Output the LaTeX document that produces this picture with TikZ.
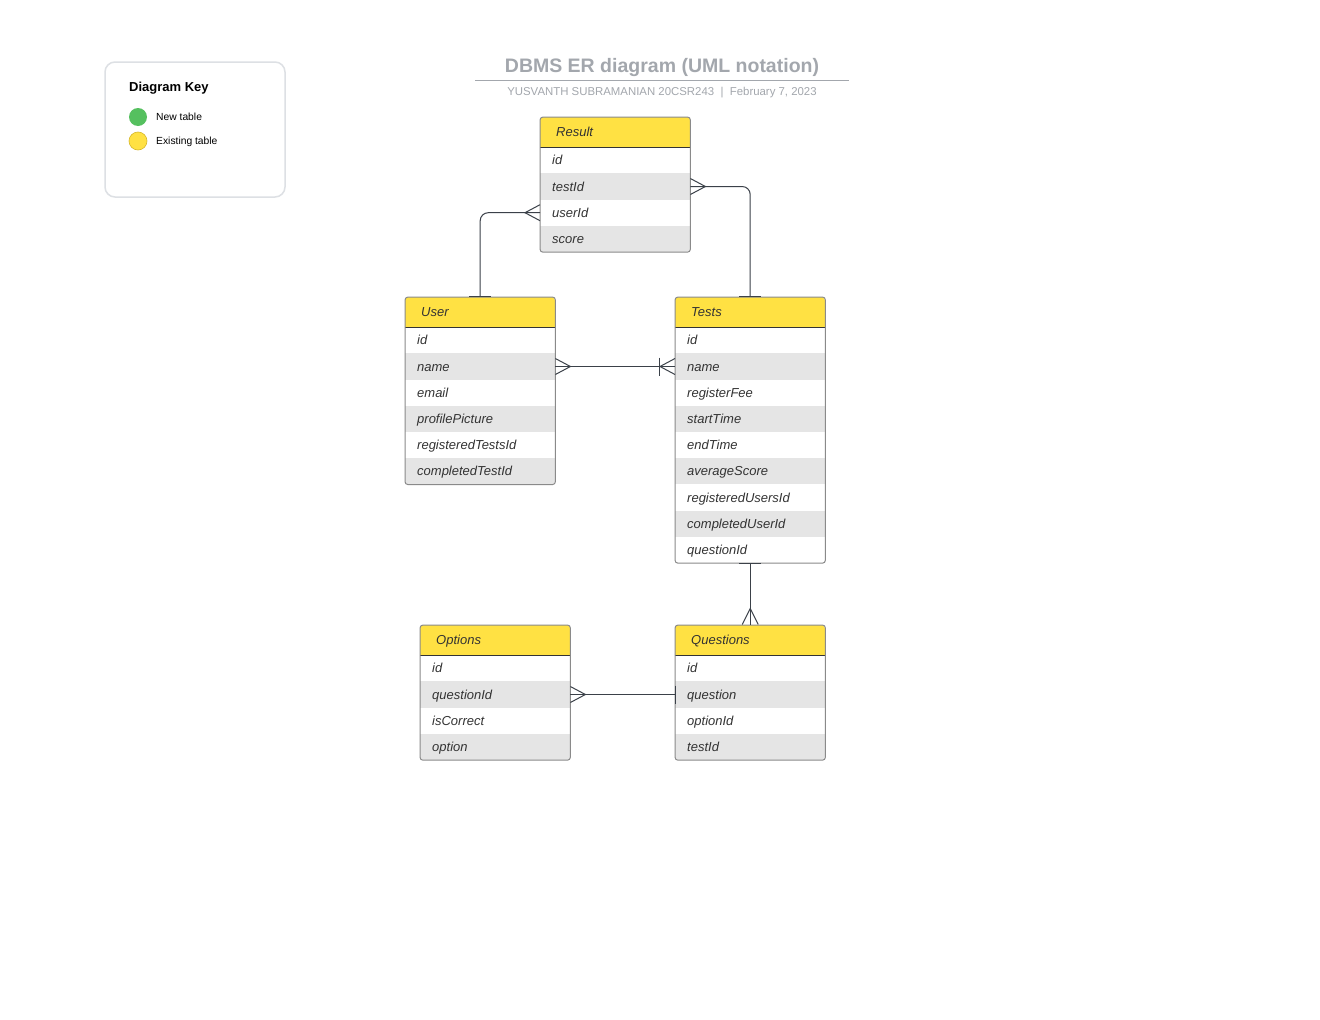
\documentclass[tikz,border=0pt]{standalone}
\usepackage{fontspec}
\setmainfont{Liberation Sans}
\usetikzlibrary{calc,fit}

\definecolor{hdryellow}{HTML}{FFE143}
\definecolor{rowgray}{HTML}{E5E5E5}
\definecolor{framec}{HTML}{8A8A8A}
\definecolor{txt}{HTML}{333333}
\definecolor{connc}{HTML}{3B4149}
\definecolor{titlec}{HTML}{A3A7AD}
\definecolor{keyframe}{HTML}{DDE0E4}
\definecolor{keygreen}{HTML}{55C05F}
\definecolor{keyyellowline}{HTML}{D6B72A}

\tikzset{
  conn/.style={draw=connc, line width=1pt},
  hdr/.style={anchor=north west, fill=hdryellow, minimum height=30, text width=118,
    inner xsep=16, inner ysep=0, align=left, text=txt, text height=12, text depth=3,
    font=\fontsize{13}{15}\selectfont\itshape},
  fieldrow/.style={anchor=north west, minimum height=26.2, text width=126,
    inner xsep=12, inner ysep=0, align=left, text=txt, text height=12, text depth=3,
    font=\fontsize{13}{15}\selectfont\itshape},
  hdrsep/.style={draw=txt, line width=1pt},
  tframe/.style={draw=framec, line width=1pt, rounded corners=3, inner sep=0},
  keytext/.style={anchor=west, inner sep=0, text=black, font=\fontsize{10.3}{12}\selectfont},
}

% One entity table: name, left x, top y, title, number of fields, fields
\newcommand{\erTable}[6]{%
  \pgfmathsetmacro\ertBot{#3+30+#5*26.2}
  \begin{scope}
    \clip[rounded corners=3] (#2,#3) rectangle (#2+150,\ertBot);
    \node[hdr] (#1-h) at (#2,#3) {#4};
    \foreach \fld [count=\k] in {#6} {
      \ifodd\k\relax\def\rowc{white}\else\def\rowc{rowgray}\fi
      \node[fieldrow, fill=\rowc] (#1-\k) at (#2,#3+30+\k*26.2-26.2) {\fld};
    }
  \end{scope}
  \draw[hdrsep] (#1-h.south west) -- (#1-h.south east);
  \node[tframe, fit=(#1-h)(#1-#5)] (#1) {};
}

% Crow's feet (many) with the tip pointing away from the border
\newcommand{\crowW}[1]{\draw[conn] ($(#1)+(0,-8)$) -- ($(#1)+(-15,0)$) -- ($(#1)+(0,8)$);}
\newcommand{\crowE}[1]{\draw[conn] ($(#1)+(0,-8)$) -- ($(#1)+(15,0)$) -- ($(#1)+(0,8)$);}
\newcommand{\crowN}[1]{\draw[conn] ($(#1)+(-8,0)$) -- ($(#1)+(0,-16)$) -- ($(#1)+(8,0)$);}
% Bars (one)
\newcommand{\barH}[1]{\draw[conn] ($(#1)+(-11,0)$) -- ($(#1)+(11,0)$);}
\newcommand{\barV}[2]{\draw[conn] ($(#1)+(#2,-9)$) -- ($(#1)+(#2,9)$);}

\begin{document}
\begin{tikzpicture}[x=1pt, y=-1pt]
  \fill[white] (0,0) rectangle (1320,1020);
  \useasboundingbox (0,0) rectangle (1320,1020);

  % Title block
  \node[text=titlec, font=\fontsize{19.5}{22}\selectfont\bfseries, inner sep=0] (title) at (662,67) {DBMS ER diagram (UML notation)};
  \coordinate (ruleL) at (475,80);
  \coordinate (ruleR) at (849,80);
  \draw[titlec, line width=1pt] (ruleL) -- (ruleR);
  \node[text=titlec, font=\fontsize{11.4}{13}\selectfont, inner sep=0] (subtitle) at (662,93) {YUSVANTH SUBRAMANIAN 20CSR243\ \ |\ \ February 7, 2023};

  % Key
  \draw[keyframe, line width=1.5pt, rounded corners=10] (105,62) rectangle (285,197);
  \node[anchor=west, inner sep=0, font=\fontsize{13}{15}\selectfont\bfseries] (keytitle) at (129,88) {Diagram Key};
  \node[circle, fill=keygreen, minimum size=18, inner sep=0] (kgreen) at (138,117) {};
  \node[circle, fill=hdryellow, draw=keyyellowline, line width=0.6pt, minimum size=18, inner sep=0] (kyellow) at (138,141) {};
  \node[keytext] (knew) at (156,117) {New table};
  \node[keytext] (kold) at (156,141.5) {Existing table};

  % Tables
  \erTable{result}{540}{117}{Result}{4}{id,testId,userId,score}
  \erTable{user}{405}{297}{User}{6}{id,name,email,profilePicture,registeredTestsId,completedTestId}
  \erTable{tests}{675}{297}{Tests}{9}{id,name,registerFee,startTime,endTime,averageScore,registeredUsersId,completedUserId,questionId}
  \erTable{options}{420}{625}{Options}{4}{id,questionId,isCorrect,option}
  \erTable{questions}{675}{625}{Questions}{4}{id,question,optionId,testId}

  % Relationships
  \draw[conn, rounded corners=8] (user.north) |- (result-3.west);
  \crowW{result-3.west}
  \barH{user.north}

  \draw[conn, rounded corners=8] (tests.north) |- (result-2.east);
  \crowE{result-2.east}
  \barH{tests.north}

  \draw[conn] (user-2.east) -- (tests-2.west);
  \crowE{user-2.east}
  \crowW{tests-2.west}
  \barV{tests-2.west}{-16}

  \draw[conn] (tests.south) -- (questions.north);
  \barH{tests.south}
  \crowN{questions.north}

  \draw[conn] (options-2.east) -- (questions-2.west);
  \crowE{options-2.east}
  \barV{questions-2.west}{0}
\end{tikzpicture}
\end{document}
